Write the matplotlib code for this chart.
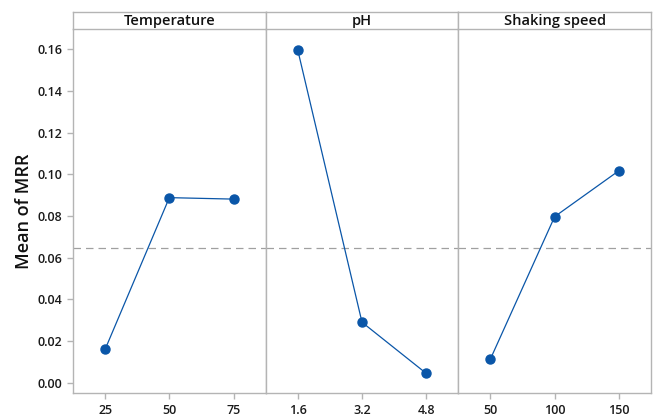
import numpy as np
import matplotlib
matplotlib.use("Agg")
import matplotlib.pyplot as plt

# data
factors = ["Temperature", "pH", "Shaking speed"]
temp_levels = ["25", "50", "75"]
ph_levels = ["1.6", "3.2", "4.8"]
speed_levels = ["50", "100", "150"]
temp_means = [0.0161, 0.0888, 0.0881]
ph_means = [0.1595, 0.0291, 0.0046]
speed_means = [0.0115, 0.0797, 0.1017]
grand_mean = 0.0645

levels = [temp_levels, ph_levels, speed_levels]
means = [temp_means, ph_means, speed_means]

plt.rcParams["font.family"] = ["Open Sans", "DejaVu Sans"]
plt.rcParams["font.weight"] = "semibold"

W, H = 658, 416
fig = plt.figure(figsize=(W / 100, H / 100), dpi=100)

gray = "#b4b4b4"
blue = "#0a56a8"
left, right = 73, 651
top_hdr, bot_hdr, bottom = 12, 29, 393
pw = (right - left) / 3

for i in range(3):
        x0 = left + i * pw
        ax = fig.add_axes([x0 / W, 1 - bottom / H, pw / W, (bottom - bot_hdr) / H])
        hx = fig.add_axes([x0 / W, 1 - bot_hdr / H, pw / W, (bot_hdr - top_hdr) / H])

        # header strip
        hx.set_xticks([])
        hx.set_yticks([])
        for s in hx.spines.values():
                s.set_color(gray)
                s.set_linewidth(1.0)
        hx.text(0.5, 0.45, factors[i], ha="center", va="center", fontsize=10.5,
                color="#111111", weight="semibold", transform=hx.transAxes)

        xs = np.arange(1, 4)
        ax.axhline(grand_mean, color="#a0a0a0", lw=0.9, ls=(0, (6, 4)), zorder=1)
        ax.plot(xs, means[i], color=blue, lw=0.9, marker="o", ms=6.5,
                mfc=blue, mec=blue, zorder=3)
        ax.set_xlim(0.5, 3.5)
        ax.set_ylim(-0.0048, 0.1696)
        ax.set_xticks(xs)
        ax.set_xticklabels(levels[i], weight="semibold")
        yt = np.arange(0, 0.161, 0.02)
        ax.set_yticks(yt)
        ax.set_yticklabels(["%.2f" % v for v in yt], weight="semibold")
        ax.tick_params(axis="both", direction="out", length=4, color=gray,
                       labelsize=9, labelcolor="#1a1a1a", width=1.0)
        ax.tick_params(axis="x", pad=4)
        for s in ax.spines.values():
                s.set_color(gray)
                s.set_linewidth(1.0)
        ax.spines["top"].set_visible(False)
        if i > 0:
                ax.tick_params(axis="y", left=False, labelleft=False)
        else:
                ax.set_ylabel("Mean of MRR", fontsize=13, color="#111111",
                              weight="semibold", labelpad=3)

fig.savefig("out.png", dpi=100)
